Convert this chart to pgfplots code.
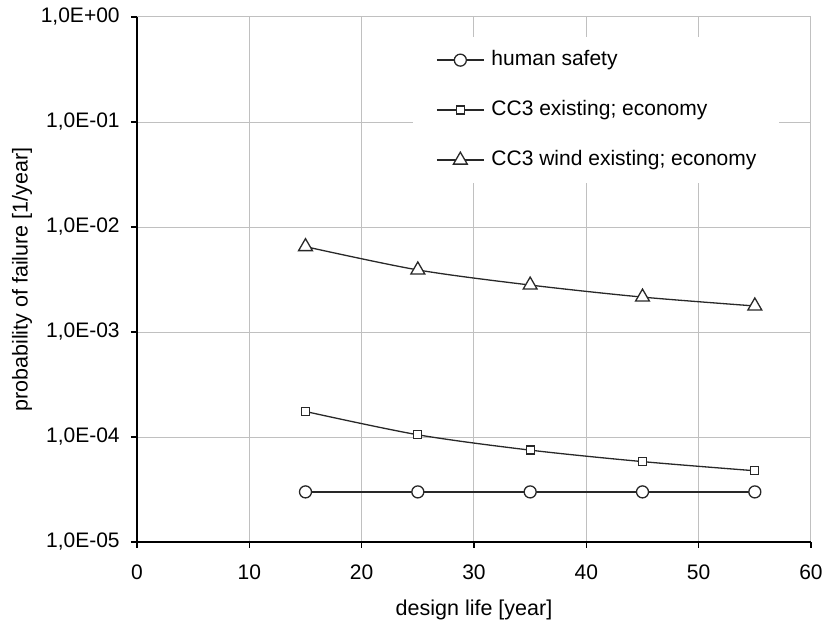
\documentclass[border=0pt]{standalone}
\usepackage{fontspec}
\setmainfont{Liberation Sans}
\usepackage{pgfplots}
\pgfplotsset{compat=1.18}
\definecolor{gridc}{RGB}{192,192,192}
\definecolor{linec}{RGB}{40,40,40}
\begin{document}
\fontsize{21.5}{25}\selectfont
\begin{tikzpicture}
\useasboundingbox (-137pt,-84pt) rectangle (688pt,542pt);
\begin{axis}[
  at={(0pt,0pt)}, anchor=south west,
  scale only axis, width=674pt, height=525pt,
  xmin=0, xmax=60, ymode=log, ymin=1e-5, ymax=1,
  xtick={0,10,...,60},
  ytick={1e-5,1e-4,1e-3,1e-2,1e-1,1},
  yticklabels={{1,0E-05},{1,0E-04},{1,0E-03},{1,0E-02},{1,0E-01},{1,0E+00}},
  yminorticks=false,
  axis lines=left, axis line style={-, black, line width=1.2pt},
  grid=major, grid style={gridc, line width=1pt},
  tick align=outside, major tick length=6pt, tick style={black, line width=1.2pt},
  /pgf/number format/assume math mode=true,
  ticklabel style={font=\fontsize{21}{25}\selectfont},
  xticklabel style={yshift=-9pt},
  yticklabel style={xshift=-4pt},
  label style={font=\fontsize{21.5}{25}\selectfont},
  xlabel={design life [year]}, ylabel={probability of failure [1/year]},
  xlabel style={at={(axis description cs:0.5,-0.1295)}, anchor=center},
  ylabel style={at={(axis description cs:-0.1706,0.5)}, anchor=center},
  legend cell align=left,
  legend image code/.code={\draw[mark repeat=2,mark phase=2,#1] plot coordinates {(0pt,0pt)(23.5pt,0pt)(47pt,0pt)};},
  legend style={at={(axis description cs:0.4095,0.962)}, anchor=north west,
    draw=none, fill=white, inner xsep=23pt, inner ysep=13pt,
    row sep=30pt, column sep=7pt,
    font=\fontsize{21}{25}\selectfont,
    nodes={text height=15pt, text depth=5pt, inner sep=0pt}},
]
\addplot[linec, line width=1.3pt, mark=*, mark size=6pt, mark options={fill=white, line width=1.3pt}]
  coordinates {(15,3e-5)(25,3e-5)(35,3e-5)(45,3e-5)(55,3e-5)};
\addlegendentry{human safety}
\addplot[linec, line width=1.3pt, smooth, mark=square*, mark size=4pt, mark options={fill=white, line width=1.3pt}]
  coordinates {(15,1.75e-4)(25,1.05e-4)(35,7.5e-5)(45,5.83e-5)(55,4.77e-5)};
\addlegendentry{CC3 existing; economy}
\addplot[linec, line width=1.3pt, smooth, mark=triangle*, mark size=8pt, mark options={fill=white, line width=1.3pt}]
  coordinates {(15,6.5e-3)(25,3.9e-3)(35,2.8e-3)(45,2.15e-3)(55,1.77e-3)};
\addlegendentry{CC3 wind existing; economy}
\end{axis}
\end{tikzpicture}
\end{document}
